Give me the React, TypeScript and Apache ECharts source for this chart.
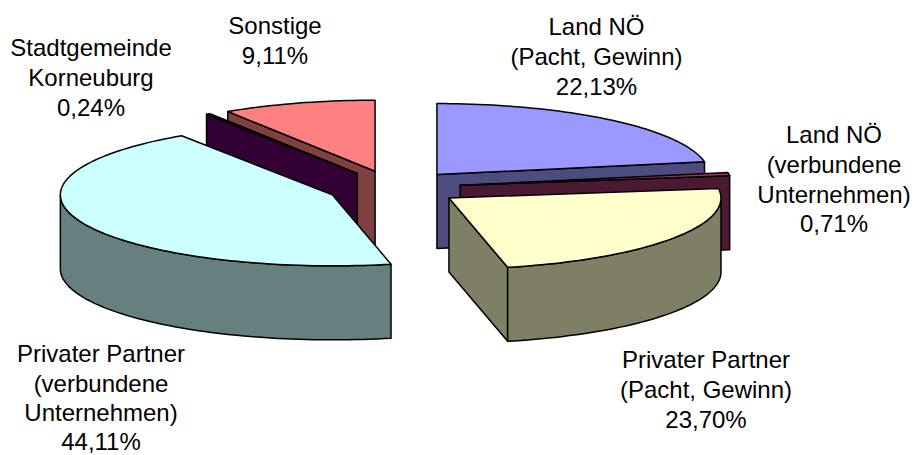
import React, { useEffect, useRef } from "react";
import * as echarts from "echarts";

const categories = [
  ["Land NÖ", "(Pacht, Gewinn)"],
  ["Land NÖ", "(verbundene", "Unternehmen)"],
  ["Privater Partner", "(Pacht, Gewinn)"],
  ["Privater Partner", "(verbundene", "Unternehmen)"],
  ["Stadtgemeinde", "Korneuburg"],
  ["Sonstige"],
];
const shares = [22.13, 0.71, 23.7, 44.11, 0.24, 9.11];
const topColors = ["#9999FF", "#993366", "#FFFFCC", "#CCFFFF", "#660066", "#FF8080"];
const sideColors = ["#4C4C7F", "#4C1933", "#7F7F66", "#667F7F", "#330033", "#7F4040"];
// Centre x, top y and line height of each label block
const labelAnchors = [
  [596.5, 12, 29.7],
  [834, 120, 29.7],
  [706, 345, 29.7],
  [101, 339.4, 29.1],
  [91, 33, 29.7],
  [275, 11, 29.7],
];

const CX = 394;
const CY = 188;
const RX = 272;
const RY = 71;
const DEPTH = 74;
const EXPLODE = 67;
const FONT_SIZE = 24;

const total = shares.reduce((a, b) => a + b, 0);
const edges: number[][] = [];
shares.reduce((acc, v) => {
  const start = (acc / total) * Math.PI * 2;
  const end = ((acc + v) / total) * Math.PI * 2;
  edges.push([start, end]);
  return acc + v;
}, 0);

// Painter's order: slices furthest back are drawn first
const drawOrder = shares
  .map((_, i) => i)
  .sort((a, b) => Math.cos((edges[b][0] + edges[b][1]) / 2) - Math.cos((edges[a][0] + edges[a][1]) / 2));

const renderSlice = (params: any) => {
  const i = drawOrder[params.dataIndex];
  const [start, end] = edges[i];
  const mid = (start + end) / 2;
  const ax = CX + EXPLODE * Math.sin(mid);
  const ay = CY - (EXPLODE * RY * Math.cos(mid)) / RX;
  const steps = Math.max(2, Math.ceil(((end - start) * 180) / Math.PI / 1.5));
  const arc: number[][] = [];
  for (let s = 0; s <= steps; s++) {
    const t = start + ((end - start) * s) / steps;
    arc.push([ax + RX * Math.sin(t), ay - RY * Math.cos(t)]);
  }
  const stroke = { stroke: "#000", lineWidth: 1.5, lineJoin: "round" };
  const faceStyle = { fill: sideColors[i], ...stroke };
  const down = (p: number[]) => [p[0], p[1] + DEPTH];
  const children: any[] = [];
  const addFace = (run: number[][]) => {
    children.push({
      type: "polygon",
      shape: { points: [...run, ...run.slice().reverse().map(down)] },
      style: faceStyle,
    });
  };
  const apex = [ax, ay];
  const first = arc[0];
  const last = arc[arc.length - 1];
  if (first[0] < ax - 0.01) addFace([apex, first]);
  if (ax < last[0] - 0.01) addFace([last, apex]);
  let run: number[][] = [];
  for (let k = 0; k < arc.length - 1; k++) {
    if (arc[k + 1][0] < arc[k][0]) {
      if (!run.length) run.push(arc[k]);
      run.push(arc[k + 1]);
    }
  }
  if (run.length) addFace(run);
  children.push({
    type: "polygon",
    shape: { points: [apex, ...arc] },
    style: { fill: topColors[i], ...stroke },
  });
  return { type: "group", children };
};

const labelTexts = categories.map((lines, i) =>
  [...lines, shares[i].toFixed(2).replace(".", ",") + "%"].join("\n"),
);

export default function App() {
  const ref = useRef<HTMLDivElement>(null);
  useEffect(() => {
    const chart = echarts.init(ref.current!, null, { renderer: "svg" });
    chart.setOption({
      animation: false,
      backgroundColor: "#fff",
      graphic: labelTexts.map((text, i) => ({
        type: "text",
        x: labelAnchors[i][0],
        y: labelAnchors[i][1],
        z: 10,
        style: {
          text,
          fill: "#000",
          font: `${FONT_SIZE}px "Liberation Sans", Arial, sans-serif`,
          lineHeight: labelAnchors[i][2],
          align: "center",
          verticalAlign: "top",
        },
      })),
      series: [
        {
          type: "custom",
          coordinateSystem: "none",
          silent: true,
          data: drawOrder.map((i) => shares[i]),
          renderItem: renderSlice,
        },
      ],
    });
    return () => chart.dispose();
  }, []);
  return <div ref={ref} style={{ position: "absolute", left: 0, top: 0, width: 914, height: 455 }} />;
}
